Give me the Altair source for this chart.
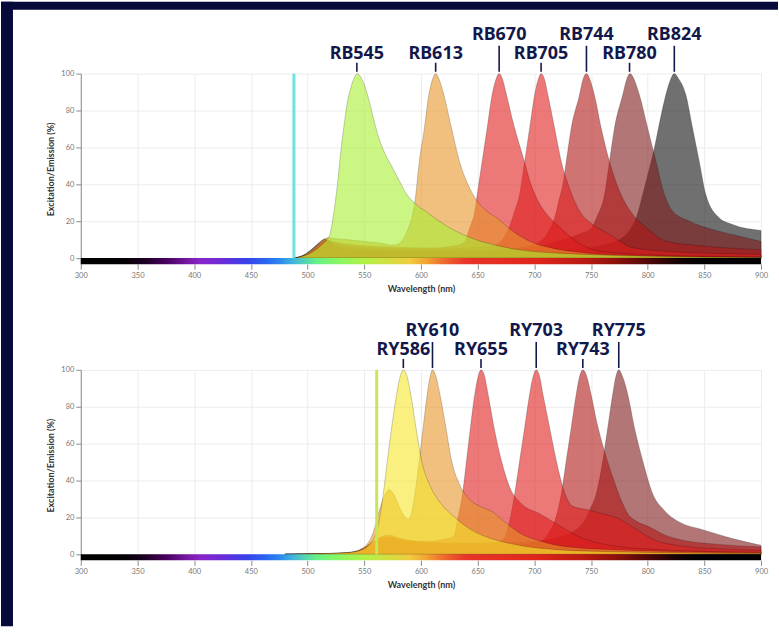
import altair as alt
import pandas as pd

NAVY = "#060a3a"
LABEL_NAVY = "#13184a"
X_MIN, X_MAX = 300, 900
Y_MIN, Y_MAX = -3.3, 100
X_TICKS = [300, 350, 400, 450, 500, 550, 600, 650, 700, 750, 800, 850, 900]
Y_TICKS = [0, 20, 40, 60, 80, 100]

# ---- spectrum colour bar stops (wavelength -> colour) ----
bar_wl = [300, 340, 355, 375, 395, 405, 425, 445, 462, 475, 487, 497, 507, 525, 548,
          570, 590, 605, 620, 640, 700, 745, 775, 800, 825, 845, 900]
bar_col = ["#000000", "#040004", "#1a0020", "#48005e", "#7a1aa8", "#8a24c8", "#6a2cd8",
           "#3a40ea", "#2a62f0", "#2c86ee", "#40b4dc", "#54d2b4", "#64ee8c", "#84f866",
           "#aef24a", "#d0e040", "#f0cc40", "#f2a232", "#f06a2e", "#e8342a", "#e0261c",
           "#b81a12", "#86100a", "#500806", "#180202", "#000000", "#000000"]

# ---- top panel (blue laser) ----
rb_names = ["RB545", "RB613", "RB670", "RB705", "RB744", "RB780", "RB824"]
rb_peaks = [543.5, 613, 669, 706, 746, 784, 823.5]
rb_rows = [0, 0, 1, 0, 1, 0, 1]
rb_colors = ["#a8f030", "#e8962a", "#e01e1e", "#e01e1e", "#b01515", "#801a1a", "#101010"]
rb_laser = 488
rb_laser_color = "#6ee1e6"

rb545_wl = [488, 495, 502, 508, 513, 517, 520, 523, 526, 529, 532, 535, 538, 541, 544, 547, 550, 554,
            558, 563, 568, 574, 580, 587, 595, 605, 615, 625, 638, 652, 666, 681, 700, 725, 750, 800, 850, 900]
rb545_em = [0, 0.8, 2.5, 4.8, 7.5, 10, 13.5, 24, 38, 56, 71, 84, 92, 97.5, 100, 98, 94, 86,
            76, 65, 57, 50, 43, 35, 29.5, 25, 20.5, 16.5, 12.5, 9.2, 7, 5, 3.5, 2.5, 1.8, 1, 0.5, 0.3]
rb613_wl = [488, 495, 502, 508, 513, 518, 525, 535, 550, 565, 575, 580, 583, 586, 589, 592, 595, 598.5,
            603, 607, 610, 613, 616, 620, 627, 634, 640, 646, 652, 658, 667, 680, 699, 715, 735, 760, 800, 850, 900]
rb613_em = [0, 1, 3.5, 6.5, 9.5, 11, 10.5, 10, 9, 8, 7, 7.5, 9.2, 12, 16.4, 22, 32, 52,
            70, 88.5, 96.5, 100, 97, 89, 70.4, 52.4, 42, 34.4, 29, 25.4, 21.8, 15, 8.3, 5.5, 3.5, 2, 1.2, 0.6, 0.3]
rb670_wl = [488, 495, 502, 508, 513, 517, 522, 530, 545, 575, 610, 628, 635, 639, 643, 647.5, 650, 654,
            658.4, 662.8, 666, 669, 672, 675.5, 682, 690, 697, 705, 712, 722, 735, 757, 800, 850, 900]
rb670_em = [0, 1, 3.2, 6, 8.5, 9.5, 9, 8, 7, 6, 5.5, 6.5, 7.5, 9.2, 16.4, 25.4, 36, 52.4,
            70.4, 88.5, 96.5, 100, 97, 88.5, 72, 55, 40, 29, 23, 17, 10, 3.8, 1.8, 1, 0.7]
rb705_wl = [488, 495, 502, 508, 513, 517, 522, 530, 545, 600, 640, 665, 672, 678, 683, 687, 691.5,
            695.9, 700.3, 703.5, 706, 709, 712, 717.9, 723.8, 731, 740, 751.6, 766.3, 786.8, 820, 860, 900]
rb705_em = [0, 0.8, 3, 5.5, 8, 8.8, 8.3, 7, 6, 5, 5.5, 7, 10, 17, 26, 34.4, 52.4,
            70.5, 88.5, 97, 100, 97, 88.5, 70.5, 52.4, 38, 25.4, 18.2, 12.8, 5.6, 3.5, 2.5, 2]
rb744_wl = [488, 495, 502, 508, 513, 517, 522, 530, 545, 600, 660, 690, 705, 712, 718, 722, 725.2,
            728.2, 732.6, 739.9, 743, 746, 749, 753, 759, 766.3, 776.5, 786.8, 800, 816, 850, 900]
rb744_em = [0, 0.7, 2.5, 5, 7, 7.5, 7, 5.5, 4.5, 3.5, 4, 6, 9, 14, 22, 32, 40,
            52.4, 70.5, 88.5, 97, 100, 97, 88.5, 70.5, 52.4, 34.4, 23.6, 16, 9.2, 6.5, 4.5]
rb780_wl = [488, 495, 500, 505, 510, 514, 517, 520, 525, 532, 545, 600, 650, 700, 720, 740, 750, 755,
            761.9, 766.3, 770.7, 778, 781.5, 784.5, 788, 792.7, 800, 807.3, 813, 822, 836.7, 860, 880, 900]
rb780_em = [0, 0.8, 2, 4, 6.5, 9, 10, 9, 6, 4.5, 3.5, 3, 3.5, 6, 9, 13, 16, 22,
            34.4, 52.4, 70.5, 88.5, 97, 100, 97, 88.5, 70.5, 52.4, 38, 25.4, 20, 15, 12, 9]
rb824_wl = [488, 493, 498, 503, 508, 512, 515, 518, 522, 527, 535, 550, 600, 650, 700, 740, 760,
            775, 784, 790, 795, 800, 806, 811, 816, 820, 823.5, 827, 833.7, 839.6, 845.5, 851.3, 863, 874.8, 900]
rb824_em = [0, 0.8, 2.2, 4.5, 7.2, 9.3, 10.3, 9.5, 7, 4.5, 3, 2.5, 2, 2, 3, 5, 7,
            10, 15, 22, 33, 45, 60, 75, 88.5, 96.5, 100, 97.5, 88.5, 70.5, 52.4, 34.4, 21.8, 18.2, 15]

# ---- bottom panel (yellow-green laser) ----
ry_names = ["RY586", "RY610", "RY655", "RY703", "RY743", "RY775"]
ry_peaks = [584.5, 610.2, 653, 701.7, 742.8, 774.5]
ry_rows = [0, 1, 0, 1, 0, 1]
ry_colors = ["#f5e62a", "#e8962a", "#e01e1e", "#e01e1e", "#b01515", "#801a1a"]
ry_laser = 561
ry_laser_color = "#c8e65a"

ry586_wl = [480, 500, 520, 535, 545, 550, 555, 558, 562, 566.8, 570.4, 574.2, 578.6, 581.5, 584.5, 587.5,
            591, 595.6, 600.6, 609, 617, 630, 640, 655, 667, 690, 720, 760, 800, 850, 900]
ry586_em = [0, 0.3, 0.5, 0.9, 1.8, 3, 5.5, 8, 14.8, 32.8, 50.8, 68.8, 86.9, 96, 100, 97,
            87, 68.8, 50.8, 36, 28, 20, 15, 10, 7.6, 4.5, 2.5, 1.5, 1, 0.6, 0.4]
ry610_wl = [480, 500, 520, 535, 545, 552, 558, 563, 568, 572, 576, 580, 585, 589, 592, 594.7, 598.5, 602,
            605.6, 608, 610.2, 613, 616.7, 622, 627, 634, 643, 652, 663, 675, 687, 705, 730, 770, 820, 900]
ry610_em = [0, 0.2, 0.4, 0.8, 2, 5, 12, 23, 32, 35, 32.5, 27, 21, 19, 23, 32.8, 50.8, 68.8,
            86.9, 96, 100, 97, 86.9, 68.8, 50.8, 38, 29.7, 26, 23, 17, 11.6, 7.2, 4, 2.5, 1.5, 0.8]
ry655_wl = [480, 500, 520, 535, 545, 552, 558, 565, 572, 580, 590, 605, 615, 623, 628.4, 632.8, 636.7, 640.2,
            643.7, 647.5, 650.5, 653, 656, 659.2, 664.5, 671, 678.3, 688.6, 704.7, 719.4, 740, 770, 810, 860, 900]
ry655_em = [0, 0.2, 0.4, 0.8, 1.8, 4, 7, 9.5, 10.5, 9, 7.5, 7, 7.5, 8.5, 9.4, 20.2, 32.8, 50.8,
            68.8, 86.9, 96.5, 100, 97, 86.9, 68.8, 50.8, 36.4, 27.4, 22, 16.6, 9.4, 4.5, 2.5, 1.5, 1]
ry703_wl = [480, 500, 520, 535, 545, 552, 558, 565, 572, 580, 595, 620, 645, 662, 669, 673.9, 678.3, 682.7,
            687.1, 691.5, 695.9, 699, 701.7, 704.5, 707.6, 713.5, 719.4, 725.2, 734, 748, 760, 772, 787, 805,
            830, 860, 900]
ry703_em = [0, 0.2, 0.4, 0.7, 1.6, 3.5, 6, 8.5, 9.5, 8.5, 7, 6, 6, 6.5, 7, 9, 18.4, 32.8,
            50.8, 68.8, 86.9, 96.5, 100, 97, 86.9, 68.8, 50.8, 36.4, 26, 24, 22, 20, 14.8, 8,
            4.5, 3, 2]
ry743_wl = [480, 500, 520, 535, 545, 552, 558, 565, 572, 580, 600, 640, 680, 700, 708, 713, 718, 723.8,
            728.2, 732.6, 737, 740, 742.8, 746, 750, 755, 760, 769.2, 778, 782.4, 790, 801.5, 815, 830.8, 860, 900]
ry743_em = [0, 0.2, 0.4, 0.7, 1.5, 3, 5.5, 7.5, 8.5, 7.5, 6, 5, 5, 6, 8, 12, 18, 32.8,
            50.8, 68.8, 86.9, 96.5, 100, 97, 87, 72, 60, 41.8, 27.4, 22, 18, 14.8, 10.5, 7.6, 5.5, 4]
ry775_wl = [480, 500, 520, 535, 545, 552, 558, 565, 572, 580, 600, 650, 700, 725, 738, 745, 748.7, 754.6,
            760.4, 764.8, 769.2, 772, 774.5, 777.5, 782.4, 788.3, 795.6, 804.4, 814.7, 830.8, 845.5, 860.1,
            874.8, 900]
ry775_em = [0, 0.3, 0.5, 1, 2.2, 4.5, 7, 9, 9.5, 8, 6.5, 6, 7, 10, 14, 19, 23.8, 32.8,
            50.8, 68.8, 86.9, 96.5, 100, 97, 86.9, 68.8, 50.8, 32.8, 23.8, 16.6, 13.9, 11.2,
            8.5, 4.9]

rb_spectra = {"RB545": (rb545_wl, rb545_em), "RB613": (rb613_wl, rb613_em), "RB670": (rb670_wl, rb670_em),
              "RB705": (rb705_wl, rb705_em), "RB744": (rb744_wl, rb744_em), "RB780": (rb780_wl, rb780_em),
              "RB824": (rb824_wl, rb824_em)}
ry_spectra = {"RY586": (ry586_wl, ry586_em), "RY610": (ry610_wl, ry610_em), "RY655": (ry655_wl, ry655_em),
              "RY703": (ry703_wl, ry703_em), "RY743": (ry743_wl, ry743_em), "RY775": (ry775_wl, ry775_em)}

gradient = alt.LinearGradient(
    gradient="linear",
    stops=[alt.GradientStop(offset=(w - X_MIN) / (X_MAX - X_MIN), color=c) for w, c in zip(bar_wl, bar_col)],
    x1=0, x2=1, y1=0, y2=0)

x_enc = alt.X("wl:Q", scale=alt.Scale(domain=[X_MIN, X_MAX], nice=False, zero=False),
              axis=alt.Axis(values=X_TICKS, title="Wavelength (nm)", format="d", labelFlush=False))
y_enc = alt.Y("em:Q", stack=None, scale=alt.Scale(domain=[Y_MIN, Y_MAX], nice=False, zero=False),
              axis=alt.Axis(values=Y_TICKS, title="Excitation/Emission (%)", domain=True, labelFlush=False))


def panel(names, peaks, rows, colors, spectra, laser, laser_color, decor=False):
    # one area layer per dye, longest wavelength drawn first
    areas = []
    for n, c in reversed(list(zip(names, colors))):
        wl, em = spectra[n]
        d = pd.DataFrame({"wl": wl, "em": em})
        areas.append(alt.Chart(d).mark_area(
            interpolate="monotone", color=c, fillOpacity=0.6,
            stroke="#000000", strokeOpacity=0.28, strokeWidth=0.7
        ).encode(x=x_enc, y=y_enc))

    bar = alt.Chart(pd.DataFrame({"wl": [X_MIN], "wl2": [X_MAX], "em": [0], "em2": [Y_MIN]})).mark_rect(
        color=gradient).encode(x=x_enc, x2="wl2:Q", y=y_enc, y2="em2:Q")

    laser_rule = alt.Chart(pd.DataFrame({"wl": [laser], "em": [0], "em2": [Y_MAX]})).mark_rule(
        color=laser_color, strokeWidth=3).encode(x=x_enc, y=y_enc, y2="em2:Q")

    lab_df = pd.DataFrame({"name": names, "wl": peaks, "row": rows})
    labels = alt.Chart(lab_df).transform_calculate(
        em="datum.row == 1 ? 121 : 110.8"
    ).mark_text(font="Noto Sans", fontWeight="bold", fontSize=18, color=LABEL_NAVY,
                baseline="middle", align="center").encode(x=x_enc, y=y_enc, text="name:N")
    ticks = alt.Chart(lab_df).transform_calculate(
        em="101", em2="datum.row == 1 ? 115.1 : 105.9"
    ).mark_rule(color=LABEL_NAVY, strokeWidth=1.6).encode(x=x_enc, y=y_enc, y2="em2:Q")

    layers = areas + [bar, laser_rule, ticks, labels]
    if decor:
        # decorative page frame: navy strip on the left and along the top
        one = pd.DataFrame({"a": [0]})
        left_strip = alt.Chart(one).mark_rect(color=NAVY).encode(
            x=alt.value(-80), x2=alt.value(-68), y=alt.value(-72), y2=alt.value(554))
        top_strip = alt.Chart(one).mark_rect(color=NAVY).encode(
            x=alt.value(-80), x2=alt.value(699), y=alt.value(-72), y2=alt.value(-64))
        layers += [left_strip, top_strip]
    return alt.layer(*layers).properties(width=682, height=191)


top = panel(rb_names, rb_peaks, rb_rows, rb_colors, rb_spectra, rb_laser, rb_laser_color, decor=True)
bottom = panel(ry_names, ry_peaks, ry_rows, ry_colors, ry_spectra, ry_laser, ry_laser_color)

chart = alt.vconcat(top, bottom, spacing=106, bounds="flush").properties(
    padding=0, background="#ffffff"
).configure_view(stroke="transparent").configure_axis(
    gridColor="#ececec", gridWidth=1, domainColor="#8a8a8a", tickColor="#8a8a8a", tickSize=5,
    labelColor="#777777", labelFont="Lato", labelFontSize=7.5, labelPadding=2,
    titleFont="Lato", titleFontSize=9, titleFontWeight="bold", titleColor="#333333",
).configure_axisX(titlePadding=6, domain=False).configure_axisY(titlePadding=5)

chart.save("out.html", embed_options={"renderer": "svg", "actions": False})
